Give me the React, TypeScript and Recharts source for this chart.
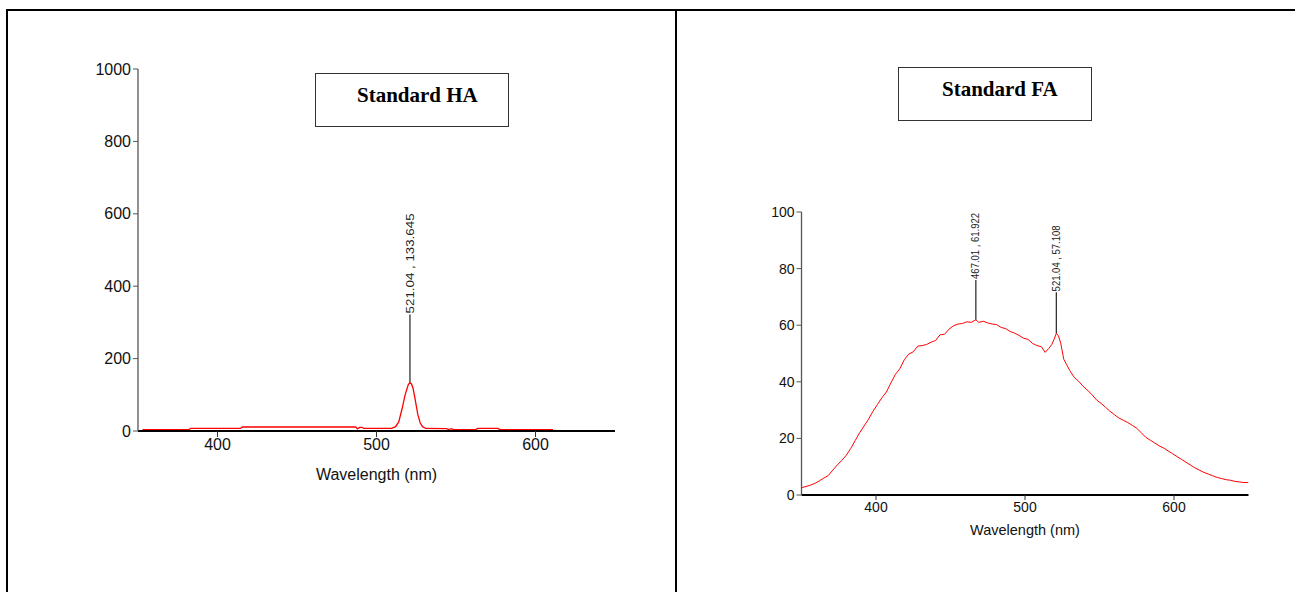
import { LineChart, Line, XAxis, YAxis, ReferenceLine } from 'recharts';

// Standard HA spectrum
const haWavelength = [352.8, 382, 383, 414.5, 415.5, 487, 488, 489.5, 491, 492, 509.5, 512, 514, 516, 518, 520, 521.04, 522, 523, 524, 525, 526, 527.5, 529, 531, 544, 545.5, 547, 548.5, 562.5, 563.5, 576.5, 577.5, 611];
const haIntensity = [4, 4, 7, 7, 11, 11, 6, 10, 10, 7, 7, 12, 25, 60, 100, 128, 133.645, 130, 118, 95, 70, 45, 22, 12, 7, 6.5, 4, 6.5, 4, 4, 7, 7, 4, 4];

// Standard FA spectrum
const faWavelength = [350, 353, 356, 359, 362, 365, 368, 371, 374, 377, 380, 383, 386, 389, 392, 395, 398, 401, 404, 407, 410, 413, 416, 419, 422, 425, 428, 431, 434, 437, 440, 443, 446, 449, 452, 455, 458, 461, 464, 467.01, 469, 472, 475, 478, 481, 484, 487, 490, 493, 496, 499, 502, 505, 508, 511, 513.5, 516, 518, 519.5, 521.04, 522.5, 524, 526, 528, 530, 533, 536, 539, 542, 545, 548, 551, 554, 557, 560, 563, 566, 569, 572, 575, 578, 581, 584, 587, 590, 593, 596, 599, 602, 605, 608, 611, 614, 617, 620, 623, 626, 629, 632, 635, 638, 641, 644, 647, 650];
const faIntensity = [2.6, 3.0, 3.5, 4.1, 5.0, 6.0, 6.9, 8.8, 10.6, 12.2, 14.0, 16.4, 19.2, 22.0, 24.4, 26.8, 29.6, 32.0, 34.4, 36.4, 39.6, 42.6, 44.6, 47.8, 49.8, 50.6, 52.6, 52.8, 53.2, 54.0, 54.6, 56.6, 56.8, 58.6, 59.8, 60.4, 60.6, 61.2, 61.0, 61.922, 61.0, 61.4, 60.8, 60.4, 60.2, 59.2, 58.8, 57.8, 57.2, 56.4, 55.4, 55.0, 53.6, 52.8, 52.4, 50.4, 51.8, 53.2, 55.0, 57.108, 56.2, 53.6, 48.0, 46.0, 44.0, 41.6, 40.2, 38.4, 37.0, 35.4, 33.6, 32.4, 31.0, 29.6, 28.4, 27.2, 26.4, 25.6, 24.6, 23.6, 22.0, 20.4, 19.4, 18.4, 17.4, 16.6, 15.6, 14.6, 13.6, 12.6, 11.6, 10.6, 9.6, 8.8, 8.0, 7.4, 6.8, 6.2, 5.8, 5.4, 5.2, 4.8, 4.6, 4.4, 4.4];

const xTicks = [400, 500, 600];
const haYTicks = [0, 200, 400, 600, 800, 1000];
const faYTicks = [0, 20, 40, 60, 80, 100];

// peak markers: x, y at peak, y where the marker line ends
const haPeakX = [521.04];
const haPeakY = [133.645];
const haPeakTop = [322];
const faPeakX = [467.01, 521.04];
const faPeakY = [61.922, 57.108];
const faPeakTop = [76, 71.6];

const haData = haWavelength.map((w, i) => ({ w, v: haIntensity[i] }));
const faData = faWavelength.map((w, i) => ({ w, v: faIntensity[i] }));

const font = '"Liberation Sans", Arial, sans-serif';

function peakShape(label: string, fontSize: number, len: number) {
  return (p: any) => {
    const x = p.x1;
    const top = Math.min(p.y1, p.y2);
    const bottom = Math.max(p.y1, p.y2);
    const ty = top - 1;
    return (
      <g>
        <line x1={x} y1={bottom} x2={x} y2={top} stroke="#333" strokeWidth={1.3} />
        <text
          x={x}
          y={ty}
          transform={`rotate(-90 ${x} ${ty})`}
          textAnchor="start"
          dy="0.35em"
          fontSize={fontSize}
          fontFamily={font}
          fill="#222"
          textLength={len}
          lengthAdjust="spacingAndGlyphs"
        >
          {label}
        </text>
      </g>
    );
  };
}

function TitleBox(props: { left: number; top: number; text: string; pad: number }) {
  return (
    <div
      style={{
        position: 'absolute',
        left: props.left,
        top: props.top,
        width: 194,
        height: 54,
        boxSizing: 'border-box',
        border: '1px solid #333',
        background: '#fff',
        fontFamily: '"Liberation Serif", "Times New Roman", serif',
        fontWeight: 'bold',
        fontSize: 21,
        lineHeight: '42px',
        paddingLeft: props.pad,
        whiteSpace: 'nowrap',
      }}
    >
      {props.text}
    </div>
  );
}

export default function App() {
  return (
    <div style={{ position: 'absolute', left: 0, top: 0, width: 1295, height: 592, background: '#fff', overflow: 'hidden' }}>
      {/* frame */}
      <div style={{ position: 'absolute', left: 6, top: 9, width: 1289, height: 2, background: '#000' }} />
      <div style={{ position: 'absolute', left: 6, top: 9, width: 2, height: 583, background: '#000' }} />
      <div style={{ position: 'absolute', left: 675, top: 9, width: 2, height: 583, background: '#000' }} />

      <div style={{ position: 'absolute', left: 0, top: 0 }}>
        <LineChart width={676} height={592} data={haData} margin={{ top: 69, right: 61, bottom: 101, left: 0 }}>
          <XAxis
            dataKey="w"
            type="number"
            domain={[350, 650]}
            ticks={xTicks}
            allowDataOverflow
            height={60}
            axisLine={{ stroke: '#000', strokeWidth: 2 }}
            tickLine={{ stroke: '#333' }}
            tickSize={6}
            tick={{ fill: '#111', fontSize: 16, fontFamily: font }}
            label={{ value: 'Wavelength (nm)', position: 'insideTop', offset: 38, fill: '#111', fontSize: 16, fontFamily: font }}
          />
          <YAxis
            type="number"
            domain={[0, 1000]}
            ticks={haYTicks}
            width={138}
            axisLine={{ stroke: '#555', strokeWidth: 1.3 }}
            tickLine={{ stroke: '#555' }}
            tickSize={5}
            tick={{ fill: '#111', fontSize: 16, fontFamily: font }}
          />
          {haPeakX.map((x, i) => (
            <ReferenceLine
              key={i}
              segment={[{ x, y: haPeakY[i] }, { x, y: haPeakTop[i] }]}
              shape={peakShape(`${x.toFixed(2)} , ${haPeakY[i]}`, 11.5, 100)}
            />
          ))}
          <Line dataKey="v" type="linear" stroke="#ff0000" strokeWidth={1.3} dot={false} isAnimationActive={false} />
        </LineChart>
      </div>

      <div style={{ position: 'absolute', left: 676, top: 0 }}>
        <LineChart width={619} height={592} data={faData} margin={{ top: 212, right: 46.5, bottom: 47, left: 0 }}>
          <XAxis
            dataKey="w"
            type="number"
            domain={[350, 650]}
            ticks={xTicks}
            allowDataOverflow
            height={50}
            axisLine={{ stroke: '#000', strokeWidth: 2 }}
            tickLine={{ stroke: '#333' }}
            tickSize={5}
            tick={{ fill: '#111', fontSize: 14, fontFamily: font }}
            label={{ value: 'Wavelength (nm)', position: 'insideTop', offset: 30, fill: '#111', fontSize: 14.5, fontFamily: font }}
          />
          <YAxis
            type="number"
            domain={[0, 100]}
            ticks={faYTicks}
            width={125.5}
            axisLine={{ stroke: '#555', strokeWidth: 1.3 }}
            tickLine={{ stroke: '#555' }}
            tickSize={5}
            tick={{ fill: '#111', fontSize: 14, fontFamily: font }}
          />
          {faPeakX.map((x, i) => (
            <ReferenceLine
              key={i}
              segment={[{ x, y: faPeakY[i] }, { x, y: faPeakTop[i] }]}
              shape={peakShape(`${x.toFixed(2)} , ${faPeakY[i]}`, 10, 66)}
            />
          ))}
          <Line dataKey="v" type="linear" stroke="#ff0000" strokeWidth={1} dot={false} isAnimationActive={false} />
        </LineChart>
      </div>

      <TitleBox left={315} top={73} text="Standard HA" pad={41} />
      <TitleBox left={898} top={67} text="Standard FA" pad={43} />
    </div>
  );
}
